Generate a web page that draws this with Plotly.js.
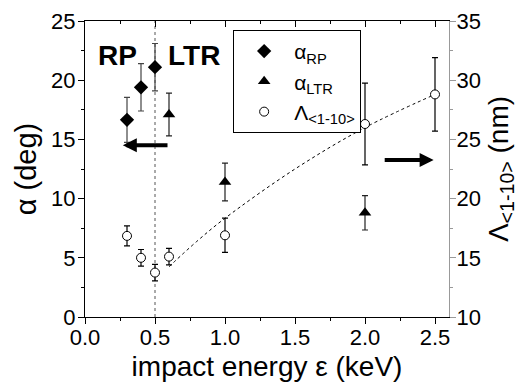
<!DOCTYPE html>
<html><head><meta charset="utf-8">
<script src="https://cdn.plot.ly/plotly-3.0.1.min.js"></script>
<style>html,body{margin:0;padding:0;background:#fff}#plot{width:521px;height:383px}</style>
</head><body><div id="plot"></div>
<script>
const rpX=[0.3,0.4,0.5];
const rpY=[16.65,19.4,21.1];
const rpErr=[1.9,2.0,2.0];
const ltrX=[0.6,1.0,2.0];
const ltrY=[17.1,11.4,8.8];
const ltrErr=[1.8,1.6,1.45];
const lamX=[0.3,0.4,0.5,0.6,1.0,2.0,2.5];
const lamY=[16.85,15.0,13.75,15.1,16.9,26.3,28.8];
const lamErr=[0.85,0.7,0.7,0.7,1.45,3.45,3.1];
const fitX=[0.6,0.8,1.0,1.5,2.0,2.5];
const fitY=[14.25,16.4,18.34,22.5,26.0,28.8];
const divX=[0.5,0.5];
const divY=[0,25];
const leftArrow={x:0.27,y:14.5,ax:0.6};
const rightArrow={x:2.49,y:23.27,ax:2.13};
const FONT="Liberation Sans, Arial, sans-serif";

const eb=(arr,c)=>({type:'data',array:arr,visible:true,color:c,thickness:1.2,width:3});
const traces=[
 {x:divX,y:divY,mode:'lines',line:{color:'#555',width:1,dash:'dot'},showlegend:false,hoverinfo:'skip'},
 {x:fitX,y:fitY,yaxis:'y2',mode:'lines',line:{color:'#000',width:1,dash:'dot',shape:'spline'},showlegend:false},
 {x:rpX,y:rpY,name:'α<sub>RP</sub>',mode:'markers',marker:{symbol:'diamond',size:11,color:'#000'},error_y:eb(rpErr,'#444')},
 {x:ltrX,y:ltrY,name:'α<sub>LTR</sub>',mode:'markers',marker:{symbol:'triangle-up',size:11,color:'#000'},error_y:eb(ltrErr,'#222')},
 {x:lamX,y:lamY,yaxis:'y2',name:'Λ<sub><1-10></sub>',mode:'markers',marker:{symbol:'circle',size:9,color:'#fff',line:{color:'#000',width:1}},error_y:eb(lamErr,'#000')},
 {x:[],y:[],xaxis:'x2',showlegend:false}
];
const axBase={showgrid:false,zeroline:false,tickfont:{family:FONT,size:22,color:'#000'},ticklen:6,tickcolor:'#000',linecolor:'#000',linewidth:1,showline:true};
const layout={
 width:521,height:383,
 margin:{l:85,r:72,t:21,b:66},
 paper_bgcolor:'#fff',plot_bgcolor:'#fff',
 font:{family:FONT,color:'#000'},
 showlegend:true,
 legend:{x:0.407,y:0.97,xanchor:'left',yanchor:'top',bgcolor:'#fff',bordercolor:'#000',borderwidth:1,font:{family:FONT,size:21},tracegroupgap:0,itemwidth:50},
 xaxis:Object.assign({},axBase,{range:[0,2.6],dtick:0.5,tick0:0,tickformat:'.1f',ticks:'outside',ticklabelstandoff:-5,
   minor:{dtick:0.25,ticks:'outside',ticklen:3,tickcolor:'#000'},
   title:{text:'impact energy ε (keV)',font:{family:FONT,size:28},standoff:6}}),
 xaxis2:Object.assign({},axBase,{range:[0,2.6],dtick:0.5,tick0:0,overlaying:'x',side:'top',anchor:'y',ticks:'inside',showticklabels:false,
   minor:{dtick:0.25,ticks:'inside',ticklen:3,tickcolor:'#000'}}),
 yaxis:Object.assign({},axBase,{range:[0,25],dtick:5,ticks:'outside',ticklabelstandoff:-2,
   minor:{dtick:2.5,ticks:'outside',ticklen:3,tickcolor:'#000'},
   title:{text:'α (deg)',font:{family:FONT,size:29},standoff:5}}),
 yaxis2:Object.assign({},axBase,{range:[10,35],dtick:5,overlaying:'y',side:'right',ticks:'outside',linecolor:'#999',tickcolor:'#999',ticklabelstandoff:-4,
   minor:{dtick:2.5,ticks:'outside',ticklen:3,tickcolor:'#999'},
   title:{text:'Λ<sub><1-10></sub> (nm)',font:{family:FONT,size:28},standoff:8}}),
 annotations:[
  {x:0.23,y:22.1,xref:'x',yref:'y',text:'<b>RP</b>',showarrow:false,font:{family:FONT,size:28}},
  {x:0.775,y:22.1,xref:'x',yref:'y',text:'<b>LTR</b>',showarrow:false,font:{family:FONT,size:28}},
  {x:leftArrow.x,y:leftArrow.y,ax:leftArrow.ax,ay:leftArrow.y,xref:'x',yref:'y',axref:'x',ayref:'y',text:'',showarrow:true,arrowhead:2,arrowwidth:4,arrowsize:0.7,arrowcolor:'#000'},
  {x:rightArrow.x,y:rightArrow.y,ax:rightArrow.ax,ay:rightArrow.y,xref:'x',yref:'y2',axref:'x',ayref:'y2',text:'',showarrow:true,arrowhead:2,arrowwidth:4,arrowsize:0.7,arrowcolor:'#000'}
 ]
};
Plotly.newPlot('plot',traces,layout,{displayModeBar:false,staticPlot:true});
</script></body></html>
